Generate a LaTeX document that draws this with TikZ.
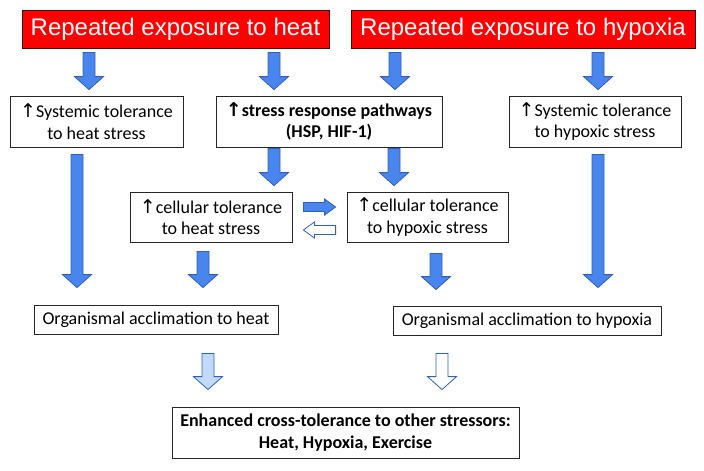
\documentclass[tikz,border=0pt]{standalone}
\usepackage{fontspec}
\setmainfont{Carlito}
\newfontfamily\headfont{Liberation Sans}
\newfontfamily\arrowfont{DejaVu Sans}
\usepackage{xcolor}
\usetikzlibrary{calc}

\definecolor{arrowblue}{RGB}{72,133,237}
\definecolor{arrowedge}{RGB}{48,96,186}
\definecolor{lightblue}{RGB}{192,218,247}
\definecolor{headred}{RGB}{255,0,0}

\newcommand{\up}{{\arrowfont\fontsize{19}{21.6}\selectfont\char"2191}}

% block arrow: [fill]{start}{end}{shaft half}{head half}{head length}
\newcommand{\fatarrow}[6][arrowblue]{%
  \path #2 coordinate (fa-s) #3 coordinate (fa-e)
    ($(fa-e)!#6!(fa-s)$) coordinate (fa-b);
  \draw[blockarrow, fill=#1]
    ($(fa-s)!#4!90:(fa-e)$) -- ($(fa-b)!#4!90:(fa-e)$) -- ($(fa-b)!#5!90:(fa-e)$)
    -- (fa-e) -- ($(fa-b)!#5!-90:(fa-e)$) -- ($(fa-b)!#4!-90:(fa-e)$)
    -- ($(fa-s)!#4!-90:(fa-e)$) -- cycle;}
\newcommand{\varrow}[3][arrowblue]{\fatarrow[#1]{#2}{#3}{6pt}{14.5pt}{13pt}}
\newcommand{\harrow}[3][arrowblue]{\fatarrow[#1]{#2}{#3}{4.5pt}{8pt}{11pt}}

\begin{document}
\begin{tikzpicture}[
      x=1pt, y=-1pt,
      head/.style={draw=black!75!red, fill=headred, line width=0.8pt, inner sep=0pt,
        minimum height=38pt, text=white, font=\headfont\fontsize{24}{28}\selectfont},
      box/.style={draw=black!85, line width=0.8pt, inner sep=0pt, align=center,
        font=\fontsize{18}{21.6}\selectfont},
      blockarrow/.style={draw=arrowedge, line width=0.8pt, line join=miter}
      ]
      \useasboundingbox (0,0) rectangle (704,471);

      % Nodes
      \node (heat) [head, minimum width=307pt] at (175.5,29) {Repeated exposure to heat};
      \node (hypoxia) [head, minimum width=344pt] at (523,29) {Repeated exposure to hypoxia};
      \node (sysheat) [box, minimum width=173pt, minimum height=51pt] at (96.5,121.5)
        {\up Systemic tolerance\\to heat stress};
      \node (stress) [box, minimum width=226pt, minimum height=51pt] at (329,121.5)
        {\bfseries{\bfseries\up}stress response pathways\\\bfseries(HSP, HIF-1)};
      \node (syshyp) [box, minimum width=172pt, minimum height=51pt] at (595,121.5)
        {\up Systemic tolerance\\to hypoxic stress};
      \node (cellheat) [box, minimum width=162pt, minimum height=50pt] at (211,217)
        {\up cellular tolerance\\to heat stress};
      \node (cellhyp) [box, minimum width=161pt, minimum height=50pt] at (427.5,217)
        {\up cellular tolerance\\to hypoxic stress};
      \node (orgheat) [box, minimum width=244pt, minimum height=29pt] at (156,319.5)
        {Organismal acclimation to heat};
      \node (orghyp) [box, minimum width=268pt, minimum height=29pt] at (527,320.5)
        {Organismal acclimation to hypoxia};
      \node (cross) [box, minimum width=347pt, minimum height=51pt] at (345.5,432.5)
        {\bfseries Enhanced cross-tolerance to other stressors:\\\bfseries Heat, Hypoxia, Exercise};

      % Arrows
      \varrow{($(89,0 |- heat.south)+(0,4)$)}{($(89,0 |- sysheat.north)+(0,-6)$)}
      \varrow{($(274,0 |- heat.south)+(0,4)$)}{($(274,0 |- stress.north)+(0,-6)$)}
      \varrow{($(395,0 |- hypoxia.south)+(0,4)$)}{($(395,0 |- stress.north)+(0,-6)$)}
      \varrow{($(598,0 |- hypoxia.south)+(0,4)$)}{($(598,0 |- syshyp.north)+(0,-6)$)}
      \varrow{($(77,0 |- sysheat.south)+(0,7)$)}{($(77,0 |- orgheat.north)+(0,-17)$)}
      \varrow{($(274,0 |- stress.south)+(0,1)$)}{($(274,0 |- cellheat.north)+(0,-6)$)}
      \varrow{($(394,0 |- stress.south)+(0,1)$)}{($(394,0 |- cellhyp.north)+(0,-6)$)}
      \varrow{($(203,0 |- cellheat.south)+(0,9)$)}{($(203,0 |- orgheat.north)+(0,-17)$)}
      \varrow{($(436,0 |- cellhyp.south)+(0,11)$)}{($(436,0 |- orghyp.north)+(0,-16)$)}
      \varrow{($(598,0 |- syshyp.south)+(0,7)$)}{($(598,0 |- orghyp.north)+(0,-18)$)}
      \harrow{($(cellheat.east |- 0,207)+(11,0)$)}{($(cellhyp.west |- 0,207)+(-11,0)$)}
      \harrow[white]{($(cellhyp.west |- 0,230)+(-11,0)$)}{($(cellheat.east |- 0,230)+(11,0)$)}
      \varrow[lightblue]{($(208,0 |- orgheat.south)+(0,19)$)}{($(208,0 |- cross.north)+(0,-17)$)}
      \varrow[white]{($(442,0 |- orghyp.south)+(0,18)$)}{($(442,0 |- cross.north)+(0,-17)$)}

    \end{tikzpicture}
\end{document}
